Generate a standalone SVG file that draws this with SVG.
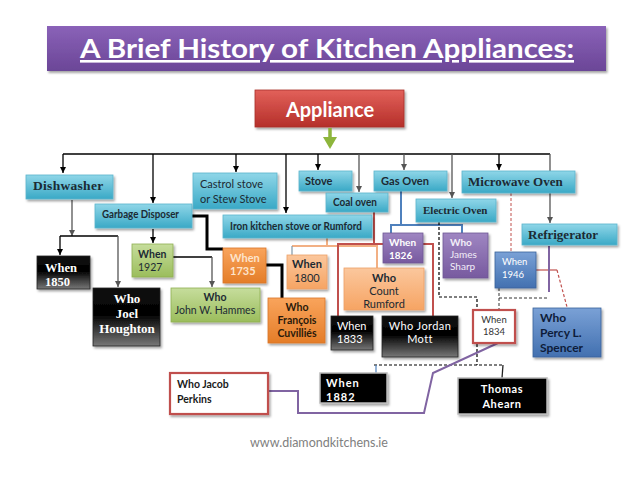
<svg xmlns="http://www.w3.org/2000/svg" width="638" height="479" viewBox="0 0 638 479">
<defs>
<filter id="sh" x="-10%" y="-10%" width="130%" height="140%">
<feDropShadow dx="1.5" dy="2" stdDeviation="1.2" flood-color="#000" flood-opacity="0.35"/>
</filter>
<linearGradient id="gTitle" x1="0" y1="0" x2="0" y2="1"><stop offset="0" stop-color="#8a62b8"/><stop offset="1" stop-color="#6b4697"/></linearGradient>
<linearGradient id="gRed" x1="0" y1="0" x2="0" y2="1"><stop offset="0" stop-color="#e2615a"/><stop offset="1" stop-color="#b52f2a"/></linearGradient>
<linearGradient id="gTeal" x1="0" y1="0" x2="0" y2="1"><stop offset="0" stop-color="#8fd6e8"/><stop offset="1" stop-color="#3aa9c6"/></linearGradient>
<linearGradient id="gGreen" x1="0" y1="0" x2="0" y2="1"><stop offset="0" stop-color="#c6dd9c"/><stop offset="1" stop-color="#9bbd5c"/></linearGradient>
<linearGradient id="gOrange" x1="0" y1="0" x2="0" y2="1"><stop offset="0" stop-color="#f9a45c"/><stop offset="1" stop-color="#e47d28"/></linearGradient>
<linearGradient id="gLtOrange" x1="0" y1="0" x2="0" y2="1"><stop offset="0" stop-color="#fbc79d"/><stop offset="1" stop-color="#f6a463"/></linearGradient>
<linearGradient id="gPurple" x1="0" y1="0" x2="0" y2="1"><stop offset="0" stop-color="#9f86c2"/><stop offset="1" stop-color="#775a9f"/></linearGradient>
<linearGradient id="gBlue" x1="0" y1="0" x2="0" y2="1"><stop offset="0" stop-color="#7aa1d6"/><stop offset="1" stop-color="#4270b0"/></linearGradient>
<linearGradient id="gBlack" x1="0" y1="0" x2="0" y2="1"><stop offset="0" stop-color="#111"/><stop offset="0.45" stop-color="#000"/><stop offset="1" stop-color="#777"/></linearGradient>
<marker id="ah" viewBox="0 0 10 10" refX="10" refY="5" markerWidth="5" markerHeight="5" orient="auto"><path d="M0,0 L10,5 L0,10 z" fill="#000"/></marker>
<marker id="ahg" viewBox="0 0 10 10" refX="10" refY="5" markerWidth="5" markerHeight="5" orient="auto"><path d="M0,0 L10,5 L0,10 z" fill="#555"/></marker>
<style>
.box{filter:url(#sh);stroke-width:0.8}
.teal{fill:url(#gTeal);stroke:#5bb4cc}
.green{fill:url(#gGreen);stroke:#8fb052}
.orange{fill:url(#gOrange);stroke:#d9762a}
.ltorange{fill:url(#gLtOrange);stroke:#eea168}
.purple{fill:url(#gPurple);stroke:#6f5794}
.blue{fill:url(#gBlue);stroke:#3a639b}
.black{fill:url(#gBlack);stroke:#222}
.solidblack{fill:#000;stroke:#bbb;stroke-width:1.5}
.wbox{fill:#fff;stroke:#c0504d;stroke-width:2.2}
.s{font-family:Lato,"Open Sans",sans-serif}
.sf{font-family:"Liberation Serif","Times New Roman",serif;font-weight:bold}
.b{font-weight:bold}
.dk{fill:#1c2a33}
.wt{fill:#fff}
.ln{fill:none;stroke:#000;stroke-width:1.3}
.lg{fill:none;stroke:#555;stroke-width:1.3}
</style>
</defs>

<g id="title">
<rect x="47" y="26" width="559" height="45" fill="url(#gTitle)" filter="url(#sh)"/>
<text x="327" y="58" text-anchor="middle" class="s b wt" font-size="26" textLength="494" lengthAdjust="spacingAndGlyphs" text-decoration="underline">A Brief History of Kitchen Appliances:</text>
</g>

<g id="appliance">
<rect x="255" y="90" width="149" height="37" fill="url(#gRed)" stroke="#a9302b" stroke-width="0.8" filter="url(#sh)"/>
<text x="330" y="117" text-anchor="middle" class="s b wt" font-size="20">Appliance</text>
</g>

<g id="connectors">
<path d="M330,128 V138" stroke="#8db53c" stroke-width="3.5" fill="none"/>
<path d="M323,137 L337,137 L330,149 z" fill="#8db53c"/>
<path class="ln" d="M63,154 H550"/>
<path class="ln" d="M63,154 V173" marker-end="url(#ah)"/>
<path class="ln" d="M153,154 V203" marker-end="url(#ah)"/>
<path class="ln" d="M236,154 V172" marker-end="url(#ah)"/>
<path class="ln" d="M286,154 V213" marker-end="url(#ah)"/>
<path class="ln" d="M318,154 V170" marker-end="url(#ah)"/>
<path class="lg" d="M359,154 V192" marker-end="url(#ahg)"/>
<path class="lg" d="M404,154 V170" marker-end="url(#ahg)"/>
<path class="lg" d="M452,154 V198" marker-end="url(#ahg)"/>
<path class="ln" d="M499,154 V170" marker-end="url(#ah)"/>
<path class="lg" d="M550,154 V223" marker-end="url(#ahg)"/>
<path class="lg" d="M72,200 V236" marker-end="url(#ahg)"/>
<path class="ln" d="M60,236 H118"/>
<path class="ln" d="M60,236 V255" marker-end="url(#ah)"/>
<path class="lg" d="M118,236 V287" marker-end="url(#ahg)"/>
<path class="ln" d="M153,229 V243" marker-end="url(#ah)"/>
<path d="M192,216 H207 V249 H223" fill="none" stroke="#000" stroke-width="3"/>
<path class="ln" d="M173,257 H212"/>
<path class="lg" d="M212,257 V287" marker-end="url(#ahg)"/>
<path d="M266,265 H282 V298" fill="none" stroke="#000" stroke-width="3"/>
<path d="M327,238 V246 M292,246 H377 V268" fill="none" stroke="#f2b084" stroke-width="2"/>
<path d="M292,246 V255" fill="none" stroke="#7f98a8" stroke-width="1.2"/>
<path d="M374,212 V244 M338,316 V244 H433 V316" fill="none" stroke="#c0504d" stroke-width="2"/>
<path d="M401,191 V225 M391,233 V225 H462 V233" fill="none" stroke="#4f81bd" stroke-width="2"/>
<path d="M439,222 V297 H477 V365 M374,365 H503" fill="none" stroke="#000" stroke-width="1.2" stroke-dasharray="3,2"/>
<path d="M376,365 V373" fill="none" stroke="#4f81bd" stroke-width="1.2"/>
<path d="M503,365 L502,378" fill="none" stroke="#222" stroke-width="1.3"/>
<path d="M511,193 V252" fill="none" stroke="#c0504d" stroke-width="1" stroke-dasharray="3,2"/>
<path d="M499,288 V310 M499,298 H549" fill="none" stroke="#333" stroke-width="1" stroke-dasharray="3,2"/>
<path d="M536,270 H557" fill="none" stroke="#c0504d" stroke-width="1.2"/>
<path d="M557,270 L567,307" fill="none" stroke="#c0504d" stroke-width="1.2" stroke-dasharray="3,2"/>
<path d="M549,246 V292" fill="none" stroke="#8064a2" stroke-width="2"/>
<path d="M498,343 L433,373 L424,413 H298 V391 H269" fill="none" stroke="#8064a2" stroke-width="2"/>
</g>

<g id="dishwasher"><rect class="box teal" x="26" y="175" width="87" height="24"/>
<text x="33" y="190" class="sf dk" font-size="13.5" letter-spacing="0.3">Dishwasher</text></g>
<g id="garbage-disposer"><rect class="box teal" x="95" y="204" width="97" height="24"/>
<text x="102" y="218" class="s b dk" font-size="10.5" textLength="77" lengthAdjust="spacingAndGlyphs">Garbage Disposer</text></g>
<g id="castrol-stove"><rect class="box teal" x="193" y="173" width="84" height="36"/>
<text class="s dk" font-size="11"><tspan x="200" y="188">Castrol stove</tspan><tspan x="200" y="203">or Stew Stove</tspan></text></g>
<g id="stove"><rect class="box teal" x="299" y="171" width="53" height="20"/>
<text x="305" y="185" class="s b dk" font-size="11">Stove</text></g>
<g id="gas-oven"><rect class="box teal" x="374" y="171" width="73" height="20"/>
<text x="381" y="185" class="s b dk" font-size="11" textLength="48" lengthAdjust="spacingAndGlyphs">Gas Oven</text></g>
<g id="coal-oven"><rect class="box teal" x="326" y="193" width="62" height="19"/>
<text x="333" y="206" class="s b dk" font-size="10.5" textLength="44" lengthAdjust="spacingAndGlyphs">Coal oven</text></g>
<g id="iron-stove"><rect class="box teal" x="223" y="215" width="149" height="23"/>
<text x="230" y="230" class="s b dk" font-size="10.5" textLength="132" lengthAdjust="spacingAndGlyphs">Iron kitchen stove or Rumford</text></g>
<g id="electric-oven"><rect class="box teal" x="416" y="199" width="80" height="23"/>
<text x="423" y="214" class="sf dk" font-size="11">Electric Oven</text></g>
<g id="microwave-oven"><rect class="box teal" x="462" y="171" width="113" height="22"/>
<text x="468" y="186" class="sf dk" font-size="13">Microwave Oven</text></g>
<g id="refrigerator"><rect class="box teal" x="522" y="224" width="95" height="21"/>
<text x="528" y="239" class="sf dk" font-size="13">Refrigerator</text></g>

<g id="when-1850"><rect class="box black" x="37" y="256" width="53" height="33"/>
<text class="sf wt" font-size="12.5"><tspan x="45" y="272">When</tspan><tspan x="45" y="286">1850</tspan></text></g>
<g id="who-joel-houghton"><rect class="box black" x="93" y="288" width="67" height="58"/>
<text class="sf wt" font-size="13" text-anchor="middle"><tspan x="127" y="303">Who</tspan><tspan x="127" y="318">Joel</tspan><tspan x="127" y="333">Houghton</tspan></text></g>
<g id="when-1927"><rect class="box green" x="132" y="244" width="41" height="33"/>
<text class="s dk" font-size="10.5"><tspan x="138" y="258" font-weight="bold">When</tspan><tspan x="138" y="271">1927</tspan></text></g>
<g id="who-hammes"><rect class="box green" x="171" y="288" width="89" height="34"/>
<text class="s dk" font-size="10.5" text-anchor="middle"><tspan x="215" y="301" font-weight="bold">Who</tspan><tspan x="215" y="314">John W. Hammes</tspan></text></g>
<g id="when-1735"><rect class="box orange" x="223" y="248" width="43" height="35"/>
<text class="s b" fill="#fde4cc" font-size="11"><tspan x="230" y="262">When</tspan><tspan x="230" y="275">1735</tspan></text></g>
<g id="when-1800"><rect class="box ltorange" x="287" y="255" width="40" height="34"/>
<text class="s dk" font-size="11" text-anchor="middle"><tspan x="307" y="268" font-weight="bold">When</tspan><tspan x="307" y="282">1800</tspan></text></g>
<g id="who-francois"><rect class="box orange" x="268" y="298" width="57" height="45"/>
<text class="s b" fill="#2a1a0a" font-size="10.5" text-anchor="middle"><tspan x="297" y="311">Who</tspan><tspan x="297" y="324">François</tspan><tspan x="297" y="337">Cuvilliés</tspan></text></g>
<g id="who-count-rumford"><rect class="box ltorange" x="344" y="268" width="80" height="42"/>
<text class="s dk" font-size="11" text-anchor="middle"><tspan x="384" y="282" font-weight="bold">Who</tspan><tspan x="384" y="295">Count</tspan><tspan x="384" y="308">Rumford</tspan></text></g>
<g id="when-1826"><rect class="box purple" x="383" y="233" width="40" height="30"/>
<text class="s b wt" font-size="10"><tspan x="389" y="246">When</tspan><tspan x="389" y="259">1826</tspan></text></g>
<g id="who-james-sharp"><rect class="box purple" x="443" y="233" width="45" height="45"/>
<text class="s" fill="#f2eef8" font-size="10"><tspan x="450" y="246" font-weight="bold">Who</tspan><tspan x="450" y="258">James</tspan><tspan x="450" y="270">Sharp</tspan></text></g>
<g id="when-1833"><rect class="box black" x="331" y="316" width="42" height="34"/>
<text class="s wt" font-size="11"><tspan x="337" y="330">When</tspan><tspan x="337" y="343">1833</tspan></text></g>
<g id="who-jordan-mott"><rect class="box black" x="382" y="316" width="76" height="41"/>
<text class="s wt" font-size="11" text-anchor="middle" letter-spacing="0.4"><tspan x="420" y="330">Who Jordan</tspan><tspan x="420" y="343">Mott</tspan></text></g>
<g id="when-1946"><rect class="box blue" x="495" y="252" width="41" height="36"/>
<text class="s wt" font-size="9.5"><tspan x="502" y="265">When</tspan><tspan x="502" y="278">1946</tspan></text></g>
<g id="who-percy-spencer"><rect class="box blue" x="533" y="308" width="68" height="49"/>
<text class="s b" fill="#0e1c3a" font-size="12"><tspan x="540" y="322">Who</tspan><tspan x="540" y="337">Percy L.</tspan><tspan x="540" y="352">Spencer</tspan></text></g>
<g id="when-1834"><rect class="box wbox" x="473" y="310" width="42" height="33"/>
<text class="s" fill="#333" font-size="9.5" text-anchor="middle"><tspan x="494" y="323">When</tspan><tspan x="494" y="335">1834</tspan></text></g>
<g id="who-jacob-perkins"><rect class="box wbox" x="170" y="373" width="98" height="41"/>
<text class="s b" fill="#1a1a1a" font-size="10.5"><tspan x="177" y="388">Who  Jacob</tspan><tspan x="177" y="403">Perkins</tspan></text></g>
<g id="when-1882"><rect class="box solidblack" x="320" y="373" width="67" height="30"/>
<text class="s b wt" font-size="11" letter-spacing="1"><tspan x="326" y="387">When</tspan><tspan x="326" y="401">1882</tspan></text></g>
<g id="thomas-ahearn"><rect class="box solidblack" x="458" y="378" width="89" height="36"/>
<text class="s b wt" font-size="11" letter-spacing="0.6" text-anchor="middle"><tspan x="502" y="393">Thomas</tspan><tspan x="502" y="408">Ahearn</tspan></text></g>

<text x="319" y="447" text-anchor="middle" class="s" fill="#808080" font-size="12.5">www.diamondkitchens.ie</text>
</svg>
